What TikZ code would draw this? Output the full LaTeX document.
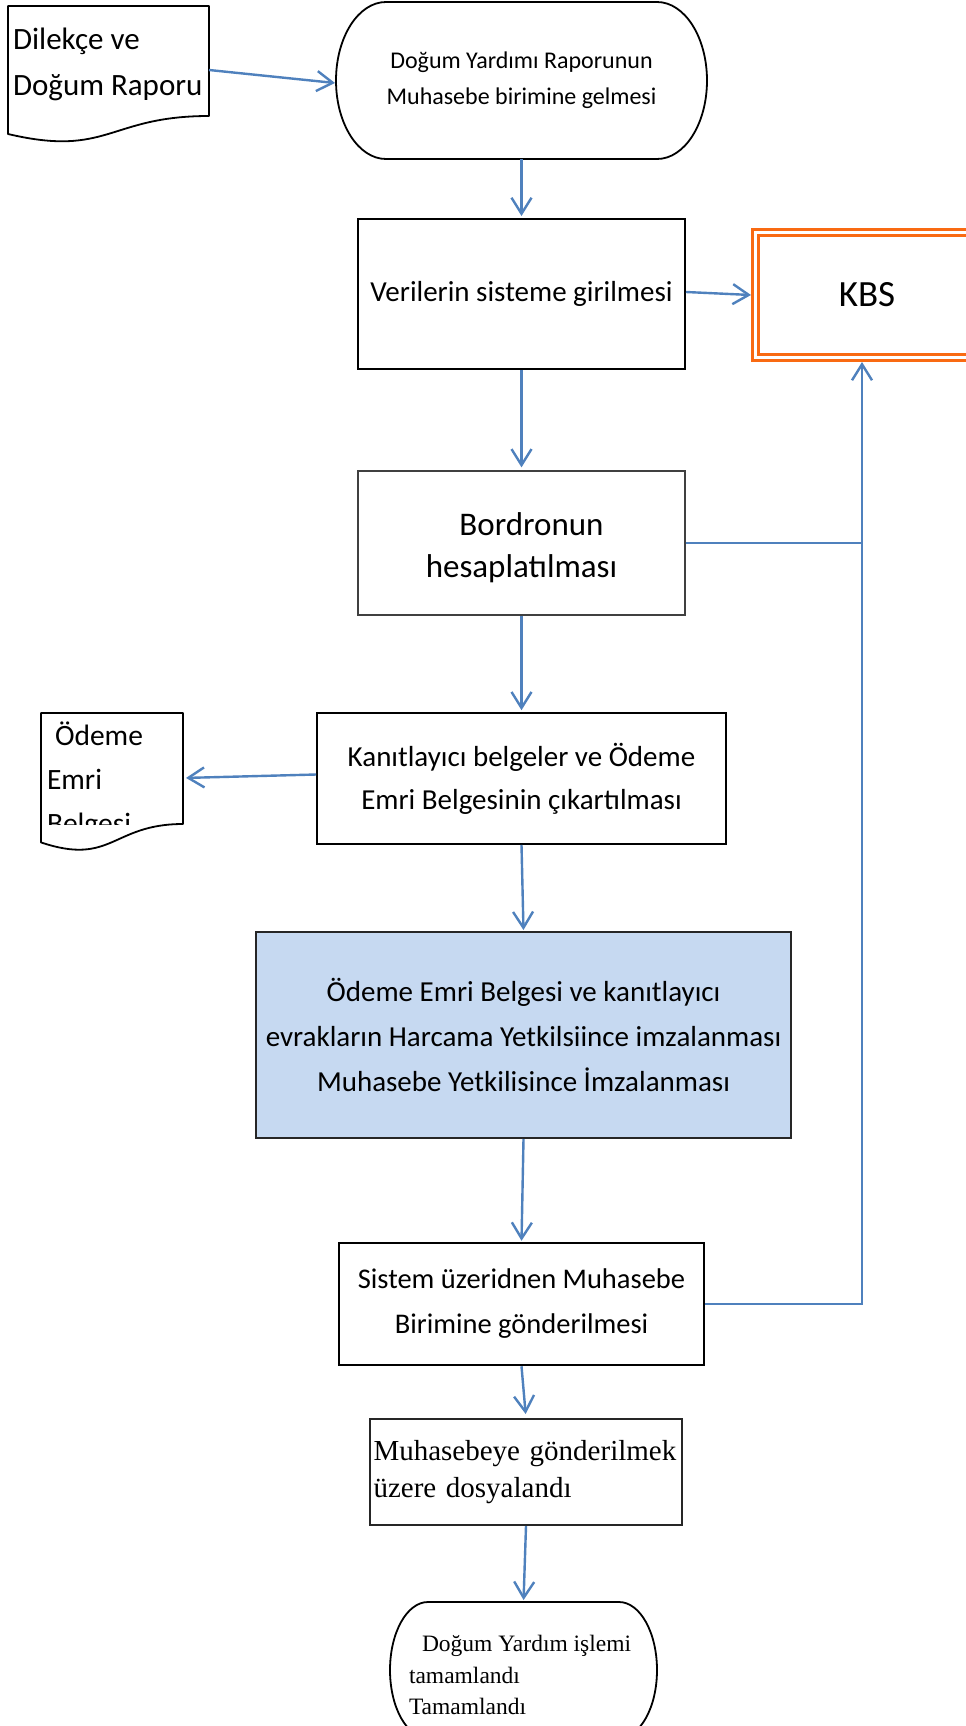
\documentclass[tikz,border=0pt]{standalone}
\usepackage{fontspec}
\setmainfont{Carlito}
\newfontfamily\tnr{Liberation Serif}
\usetikzlibrary{arrows.meta}
\definecolor{arrowblue}{HTML}{4F81BD}
\definecolor{boxblue}{HTML}{C6D9F1}
\definecolor{kbsorange}{HTML}{F96A12}
\begin{document}
\begin{tikzpicture}[x=1pt, y=-1pt,
  flow/.style={draw=arrowblue, line width=2.4pt, -{Straight Barb[length=16pt,width=20pt]}},
  conn/.style={draw=arrowblue, line width=2.4pt},
  procbox/.style={draw, rectangle, inner sep=0pt, align=center, text=black},
  shp/.style={draw=black, line width=1.8pt, line join=round},
  ghost/.style={rectangle, inner sep=0pt, outer sep=0pt},
  txt/.style={inner sep=0pt, outer sep=0pt},
  sans29/.style={font=\fontsize{29}{43}\selectfont}
]
\useasboundingbox (0,0) rectangle (966,1726);
\clip (0,0) rectangle (966,1726);
\fill[white] (0,0) rectangle (966,1726);

% ---- Dilekce document
\draw[shp] (8,6) -- (209,6) -- (209,116) .. controls (108.5,116) and (108.5,157.7) .. (8,134) -- cycle;
\node[ghost, minimum width=201pt, minimum height=137pt] (dil) at (108.5,74.5) {};
\node[txt, anchor=base west, font=\fontsize{31}{46}\selectfont] (dil-l1) at (13,50) {Dilekçe ve};
\node[txt, anchor=base west, font=\fontsize{31}{46}\selectfont] (dil-l2) at (13,96) {Doğum Raporu};

% ---- Terminator 1
\draw[shp] (386,2) -- (657,2) arc[start angle=-90, end angle=90, x radius=50, y radius=78.5]
  -- (386,159) arc[start angle=90, end angle=270, x radius=50, y radius=78.5] -- cycle;
\node[ghost, minimum width=371pt, minimum height=157pt, align=center, font=\fontsize{24}{36}\selectfont] (t1) at (521.5,80.5) {Doğum Yardımı Raporunun\\Muhasebe birimine gelmesi};

% ---- Process boxes
\node[procbox, line width=2pt, minimum width=327pt, minimum height=150pt, sans29] (ver) at (521.5,294) {Verilerin sisteme girilmesi};
\node[draw=kbsorange, line width=3pt, double=white, double distance=3pt, rectangle, inner sep=0pt, outer sep=4.5pt, minimum width=223pt, minimum height=125pt, font=\fontsize{37}{44}\selectfont] (kbs) at (867,295) {KBS};
\node[procbox, draw=black!75, line width=1.3pt, minimum width=327pt, minimum height=144pt, font=\fontsize{33}{42}\selectfont] (bor) at (521.5,543) {\rule{0pt}{33pt}\hspace*{20pt}Bordronun\\hesaplatılması};
\node[procbox, line width=1.6pt, minimum width=409pt, minimum height=131pt, sans29] (kan) at (521.5,778.5) {Kanıtlayıcı belgeler ve Ödeme\\Emri Belgesinin çıkartılması};
\node[procbox, draw=black!85, fill=boxblue, line width=2pt, minimum width=535pt, minimum height=206pt, font=\fontsize{29}{45}\selectfont] (blue) at (523.5,1035) {Ödeme Emri Belgesi ve kanıtlayıcı\\evrakların Harcama Yetkilsiince imzalanması\\Muhasebe Yetkilisince İmzalanması};
\node[procbox, line width=2.5pt, minimum width=365pt, minimum height=122pt, font=\fontsize{28.5}{45}\selectfont] (sis) at (521.5,1304) {Sistem üzeridnen Muhasebe\\Birimine gönderilmesi};
\node[procbox, draw=black!85, line width=2pt, text width=305pt, inner xsep=3.5pt, minimum height=106pt, align=left, font=\tnr\fontsize{29}{37}\selectfont] (muh) at (526,1472) {Muhasebeye gönderilmek\\üzere dosyalandı};

% ---- Odeme Emri document
\draw[shp] (41,713) -- (183,713) -- (183,824) .. controls (112,824) and (112,866.3) .. (41,842.4) -- cycle;
\node[ghost, minimum width=142pt, minimum height=139pt] (ode) at (112,782.5) {};
\begin{scope}
  \clip (41,713) rectangle (183,824);
  \node[txt, anchor=base west, font=\fontsize{29.5}{44}\selectfont] (ode-l1) at (55,745) {Ödeme};
  \node[txt, anchor=base west, font=\fontsize{29.5}{44}\selectfont] (ode-l2) at (47,789) {Emri};
  \node[txt, anchor=base west, font=\fontsize{29.5}{44}\selectfont] (ode-l3) at (47,833) {Belgesi};
\end{scope}

% ---- Terminator 2
\draw[shp] (428,1602) -- (619,1602) arc[start angle=-90, end angle=90, x radius=38, y radius=68]
  -- (428,1738) arc[start angle=90, end angle=270, x radius=38, y radius=68] -- cycle;
\node[ghost, minimum width=267pt, minimum height=136pt] (t2) at (523.5,1670) {};
\begin{scope}
  \clip (390,1602) rectangle (657,1716);
  \node[txt, anchor=base west, font=\tnr\fontsize{23.5}{31}\selectfont] (t2-l1) at (422,1651) {Doğum Yardım işlemi};
  \node[txt, anchor=base west, font=\tnr\fontsize{23.5}{31}\selectfont] (t2-l2) at (409,1683) {tamamlandı};
  \node[txt, anchor=base west, font=\tnr\fontsize{23.5}{31}\selectfont] (t2-l3) at (409,1714) {Tamamlandı};
\end{scope}

% ---- Connectors
\coordinate (dil-p) at ([yshift=4.5pt]dil.east);
\coordinate (t1-p) at (335,83);
\coordinate (ode-p) at ([yshift=4.5pt]ode.east);
\coordinate (jx) at (862,1304);
\draw[flow] (dil-p) -- (t1-p);
\draw[flow, shorten >=2pt] (t1.south) -- (ver.north);
\draw[flow] ([yshift=2pt]ver.east) -- (kbs.west);
\draw[flow, shorten >=3pt] (ver.south) -- (bor.north);
\draw[flow, shorten >=2pt] (bor.south) -- (kan.north);
\draw[flow, shorten >=3pt] ([yshift=4pt]kan.west) -- (ode-p);
\draw[flow, shorten >=1pt] (kan.south) -- (blue.north);
\draw[flow, shorten >=1pt] (blue.south) -- (sis.north);
\draw[flow, shorten >=4pt] (sis.south) -- (muh.north);
\draw[flow, shorten >=2pt] (muh.south) -- (t2.north);
\draw[conn] (bor.east) -- (bor.east -| jx);
\draw[flow] (sis.east) -- (jx) -- (jx |- kbs.south);
\end{tikzpicture}
\end{document}
